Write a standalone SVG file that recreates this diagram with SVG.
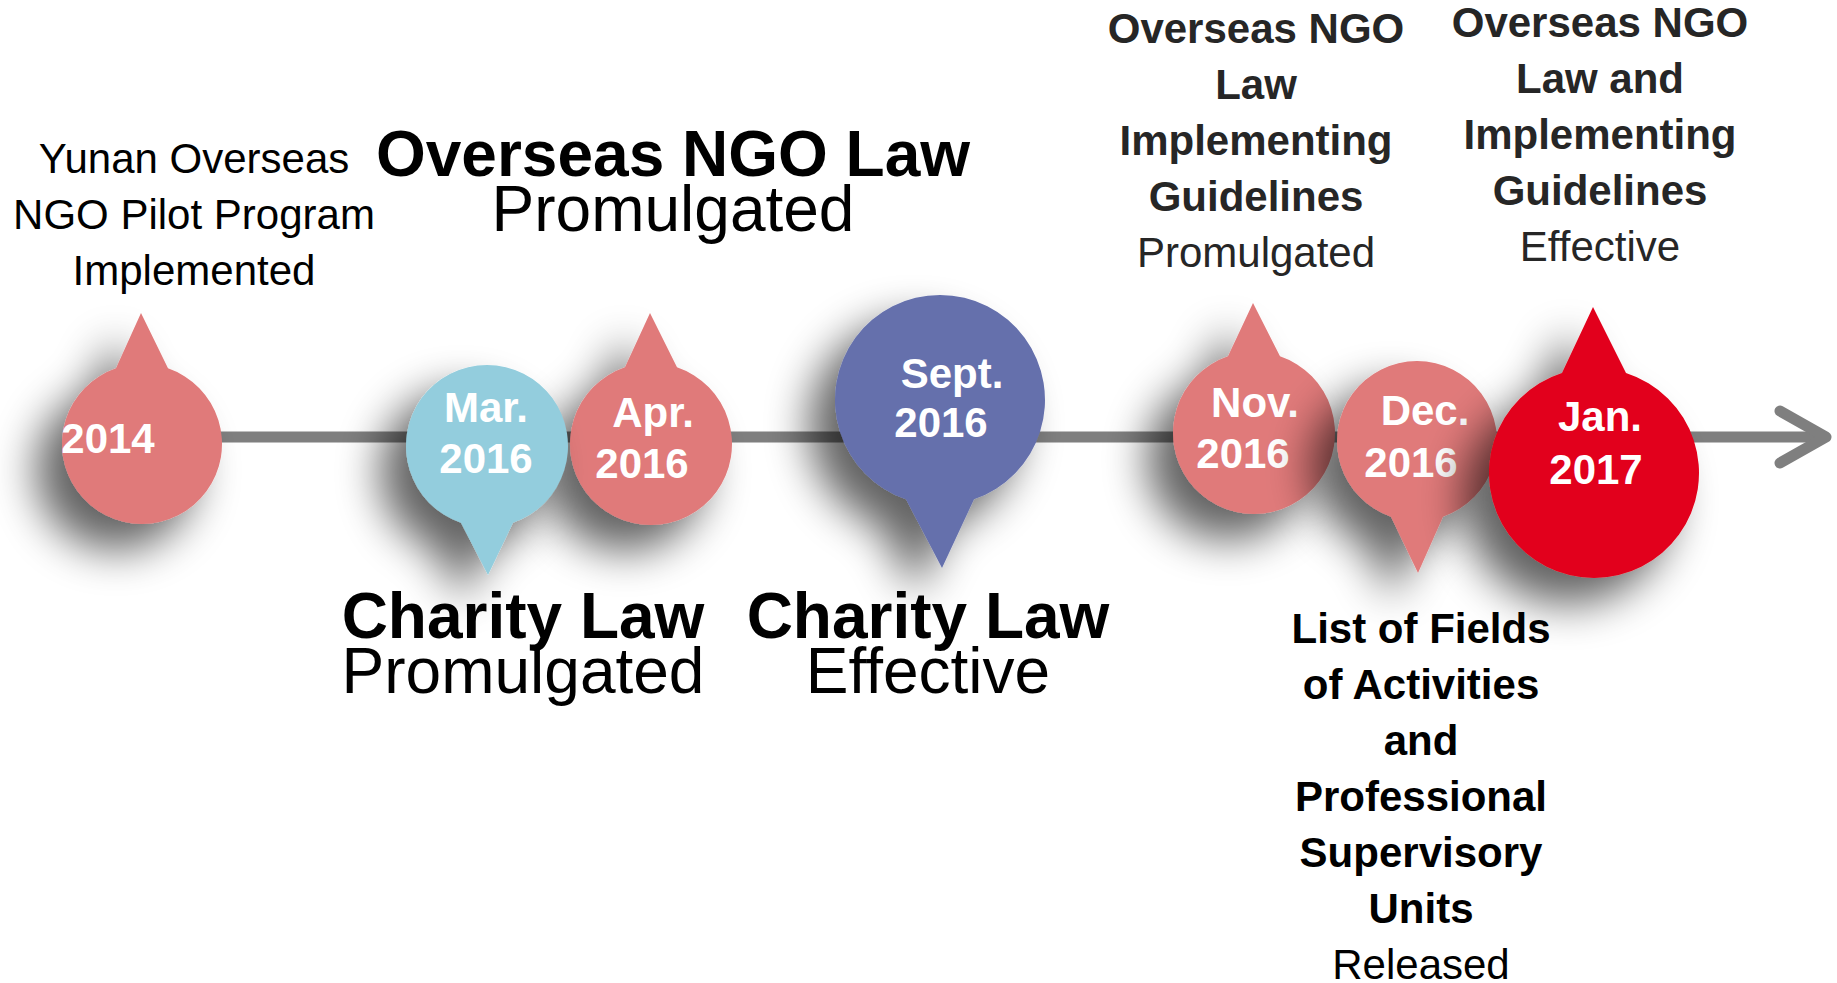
<svg xmlns="http://www.w3.org/2000/svg" width="1837" height="983" viewBox="0 0 1837 983">
<style>
.lbl{font-family:"Liberation Sans",Arial,sans-serif;text-anchor:middle;fill:#000}
.b{font-weight:bold}
.gr{fill:#262626}
.big{font-size:64px}
.med{font-size:42px}
.date{font-family:"Liberation Sans",Arial,sans-serif;font-weight:bold;font-size:42px;fill:#fff;text-anchor:middle}
.pink{fill:#E07A7A}
.blue{fill:#93CDDD}
.purple{fill:#6570AC}
.red{fill:#E2001A}
.axis{stroke:#7F7F7F;stroke-width:11;fill:none}
</style>
<defs>
<filter id="sh" x="-70%" y="-70%" width="240%" height="240%">
<feGaussianBlur in="SourceAlpha" stdDeviation="22"/>
<feOffset dx="-26" dy="26" result="o"/>
<feComponentTransfer><feFuncA type="linear" slope="0.62"/></feComponentTransfer>
<feMerge><feMergeNode/><feMergeNode in="SourceGraphic"/></feMerge>
</filter>
<marker id="arr" markerUnits="userSpaceOnUse" markerWidth="80" markerHeight="80" refX="50" refY="31" orient="auto" overflow="visible">
<path d="M4,5 L50,31 L4,57" fill="none" stroke="#7F7F7F" stroke-width="11" stroke-linecap="round" stroke-linejoin="round"/>
</marker>
</defs>
<rect width="1837" height="983" fill="#fff"/>

<g id="connectors">
<line class="axis" x1="200" y1="437" x2="1826" y2="437" marker-end="url(#arr)"/>
</g>

<g id="n2014">
<path class="pink" filter="url(#sh)" d="M141,313 L168,368.3 A80,80 0 1 1 116,368.3 Z"/>
<text class="date" x="108" y="453">2014</text>
</g>

<g id="nApr2016">
<path class="pink" filter="url(#sh)" d="M650,313 L677,367.3 A81,81 0 1 1 625,367.3 Z"/>
<text class="date" x="653" y="427">Apr.</text>
<text class="date" x="642" y="478">2016</text>
</g>

<g id="nMar2016">
<path class="blue" filter="url(#sh)" d="M488,575 L461,522.7 A81,81 0 1 1 513,522.7 Z"/>
<text class="date" x="486" y="422">Mar.</text>
<text class="date" x="486" y="473">2016</text>
</g>

<g id="nSep2016">
<path class="purple" filter="url(#sh)" d="M942,568 L906,499.3 A105,105 0 1 1 974,499.3 Z"/>
<text class="date" x="952" y="388">Sept.</text>
<text class="date" x="941" y="437">2016</text>
</g>

<g id="nNov2016">
<path class="pink" filter="url(#sh)" d="M1253,303 L1280,356.3 A81,81 0 1 1 1228,356.3 Z"/>
<text class="date" x="1255" y="417">Nov.</text>
<text class="date" x="1243" y="468">2016</text>
</g>

<g id="nDec2016">
<path class="pink" filter="url(#sh)" d="M1418,573 L1391,516.7 A80,80 0 1 1 1443,516.7 Z"/>
<text class="date" x="1425" y="425">Dec.</text>
<text class="date" x="1411" y="477">2016</text>
</g>

<g id="nJan2017">
<path class="red" filter="url(#sh)" d="M1593,307 L1626,373 A105,105 0 1 1 1562,373 Z"/>
<text class="date" x="1600" y="431">Jan.</text>
<text class="date" x="1596" y="484">2017</text>
</g>

<g id="label2014">
<text class="lbl med" x="194" y="173">Yunan Overseas</text>
<text class="lbl med" x="194" y="229">NGO Pilot Program</text>
<text class="lbl med" x="194" y="285">Implemented</text>
</g>

<g id="labelApr">
<text class="lbl big b" x="673" y="176">Overseas NGO Law</text>
<text class="lbl big" x="673" y="231">Promulgated</text>
</g>

<g id="labelMar">
<text class="lbl big b" x="523" y="638">Charity Law</text>
<text class="lbl big" x="523" y="693">Promulgated</text>
</g>

<g id="labelSep">
<text class="lbl big b" x="928" y="638">Charity Law</text>
<text class="lbl big" x="928" y="693">Effective</text>
</g>

<g id="labelNov">
<text class="lbl med b gr" x="1256" y="43">Overseas NGO</text>
<text class="lbl med b gr" x="1256" y="99">Law</text>
<text class="lbl med b gr" x="1256" y="155">Implementing</text>
<text class="lbl med b gr" x="1256" y="211">Guidelines</text>
<text class="lbl med gr" x="1256" y="267">Promulgated</text>
</g>

<g id="labelJan">
<text class="lbl med b gr" x="1600" y="37">Overseas NGO</text>
<text class="lbl med b gr" x="1600" y="93">Law and</text>
<text class="lbl med b gr" x="1600" y="149">Implementing</text>
<text class="lbl med b gr" x="1600" y="205">Guidelines</text>
<text class="lbl med gr" x="1600" y="261">Effective</text>
</g>

<g id="labelDec">
<text class="lbl med b" x="1421" y="643">List of Fields</text>
<text class="lbl med b" x="1421" y="699">of Activities</text>
<text class="lbl med b" x="1421" y="755">and</text>
<text class="lbl med b" x="1421" y="811">Professional</text>
<text class="lbl med b" x="1421" y="867">Supervisory</text>
<text class="lbl med b" x="1421" y="923">Units</text>
<text class="lbl med" x="1421" y="979">Released</text>
</g>
</svg>
